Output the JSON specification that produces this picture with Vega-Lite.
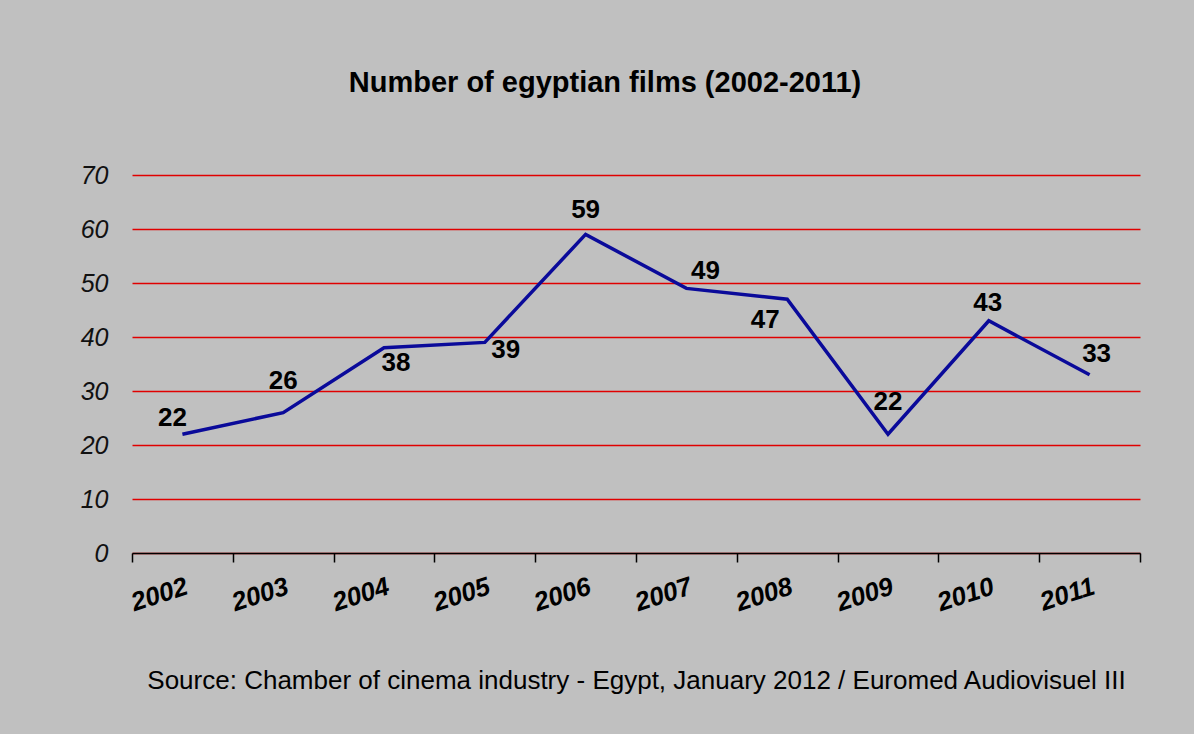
{
  "$schema": "https://vega.github.io/schema/vega-lite/v6.json",
  "width": 1008,
  "height": 378,
  "autosize": {"type": "none"},
  "padding": {"left": 132, "top": 175, "right": 54, "bottom": 181},
  "background": "#c0c0c0",
  "config": {
    "font": "Liberation Sans",
    "view": {"stroke": null},
    "text": {"font": "Liberation Sans"}
  },
  "title": {
    "text": "Number of egyptian films (2002-2011)",
    "font": "Liberation Sans",
    "fontSize": 29,
    "fontWeight": "bold",
    "color": "#000000",
    "anchor": "middle",
    "frame": "group",
    "baseline": "alphabetic",
    "offset": 42,
    "dx": -31
  },
  "data": {
    "values": [
      {"year": 2002, "films": 22},
      {"year": 2003, "films": 26},
      {"year": 2004, "films": 38},
      {"year": 2005, "films": 39},
      {"year": 2006, "films": 59},
      {"year": 2007, "films": 49},
      {"year": 2008, "films": 47},
      {"year": 2009, "films": 22},
      {"year": 2010, "films": 43},
      {"year": 2011, "films": 33}
    ]
  },
  "encoding": {
    "x": {
      "field": "year",
      "type": "ordinal",
      "bandPosition": 0.5,
      "scale": {"type": "band", "paddingInner": 0, "paddingOuter": 0},
      "axis": {
        "title": "Source: Chamber of cinema industry - Egypt, January 2012 / Euromed Audiovisuel III",
        "titleFont": "Liberation Sans",
        "titleFontSize": 26,
        "titleFontWeight": "normal",
        "titleColor": "#000000",
        "titlePadding": 52,
        "tickBand": "extent",
        "domainColor": "#000000",
        "domainWidth": 1.5,
        "tickColor": "#000000",
        "tickWidth": 1.5,
        "tickSize": 9,
        "labelAngle": -18,
        "labelAlign": "right",
        "labelBaseline": "top",
        "labelFont": "Liberation Sans",
        "labelFontSize": 26,
        "labelFontWeight": "bold",
        "labelFontStyle": "italic",
        "labelColor": "#000000",
        "labelPadding": 11,
        "labelDx": 6,
        "grid": false
      }
    },
    "y": {
      "field": "films",
      "type": "quantitative",
      "scale": {"domain": [0, 70], "nice": false, "zero": true},
      "axis": {
        "title": null,
        "values": [0, 10, 20, 30, 40, 50, 60, 70],
        "domain": false,
        "ticks": false,
        "tickSize": 0,
        "labelFont": "Liberation Sans",
        "labelFontSize": 25,
        "labelFontStyle": "italic",
        "labelColor": "#111111",
        "labelPadding": 24,
        "grid": true,
        "gridColor": "#e00000",
        "gridWidth": 1.5
      }
    },
    "text": {"field": "films", "type": "quantitative"}
  },
  "layer": [
    {
      "mark": {"type": "line", "color": "#0a0a9a", "strokeWidth": 3.5},
      "encoding": {"text": null}
    },
    {
      "transform": [{"filter": {"field": "year", "oneOf": [2003, 2009]}}],
      "mark": {"type": "text", "fontSize": 26, "fontWeight": "bold", "color": "#000000", "baseline": "middle", "dx": 0, "dy": -32}
    },
    {
      "transform": [{"filter": {"field": "year", "oneOf": [2006]}}],
      "mark": {"type": "text", "fontSize": 26, "fontWeight": "bold", "color": "#000000", "baseline": "middle", "dx": 0, "dy": -24}
    },
    {
      "transform": [{"filter": {"field": "year", "oneOf": [2010]}}],
      "mark": {"type": "text", "fontSize": 26, "fontWeight": "bold", "color": "#000000", "baseline": "middle", "dx": -1, "dy": -18}
    },
    {
      "transform": [{"filter": {"field": "year", "oneOf": [2002]}}],
      "mark": {"type": "text", "fontSize": 26, "fontWeight": "bold", "color": "#000000", "baseline": "middle", "dx": -10, "dy": -16}
    },
    {
      "transform": [{"filter": {"field": "year", "oneOf": [2007]}}],
      "mark": {"type": "text", "fontSize": 26, "fontWeight": "bold", "color": "#000000", "baseline": "middle", "dx": 19, "dy": -17}
    },
    {
      "transform": [{"filter": {"field": "year", "oneOf": [2011]}}],
      "mark": {"type": "text", "fontSize": 26, "fontWeight": "bold", "color": "#000000", "baseline": "middle", "dx": 7, "dy": -21}
    },
    {
      "transform": [{"filter": {"field": "year", "oneOf": [2004]}}],
      "mark": {"type": "text", "fontSize": 26, "fontWeight": "bold", "color": "#000000", "baseline": "middle", "dx": 12, "dy": 15}
    },
    {
      "transform": [{"filter": {"field": "year", "oneOf": [2005]}}],
      "mark": {"type": "text", "fontSize": 26, "fontWeight": "bold", "color": "#000000", "baseline": "middle", "dx": 21, "dy": 8}
    },
    {
      "transform": [{"filter": {"field": "year", "oneOf": [2008]}}],
      "mark": {"type": "text", "fontSize": 26, "fontWeight": "bold", "color": "#000000", "baseline": "middle", "dx": -22, "dy": 21}
    }
  ]
}
